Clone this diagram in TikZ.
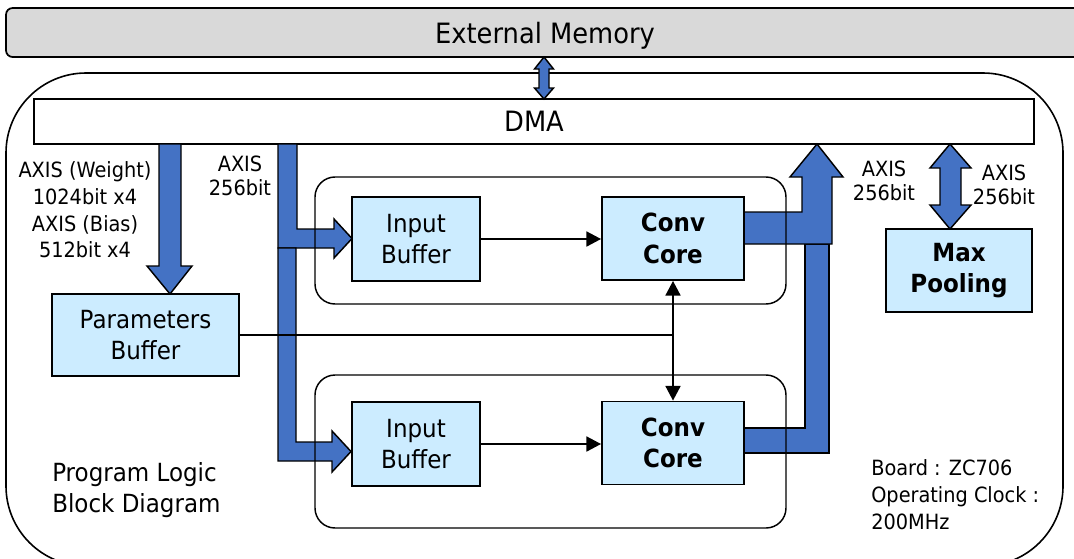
\documentclass[tikz,border=0pt]{standalone}
\usepackage{fontspec}
\setmainfont{DejaVu Sans}[FakeStretch=0.92]
\usetikzlibrary{arrows.meta}

\definecolor{busblue}{HTML}{4472C4}
\definecolor{bufblue}{HTML}{CCECFF}
\definecolor{memgray}{HTML}{D9D9D9}

\newcommand{\bigfont}{\fontsize{21pt}{25pt}\selectfont}
\newcommand{\boxfont}{\fontsize{18.75pt}{23.5pt}\selectfont}
\newcommand{\lblfont}{\fontsize{15.75pt}{18pt}\selectfont}

\tikzset{
  blk/.style={draw, fill=bufblue, line width=1.3pt, align=center, inner sep=0pt,
    font=\boxfont, minimum width=96pt, minimum height=63pt},
  core/.style={blk, font=\boxfont\bfseries, minimum width=106.5pt, minimum height=62.25pt},
  grp/.style={draw, line width=1.1pt, rounded corners=15pt},
  bus/.style={draw, fill=busblue, line width=1.1pt, line join=miter},
  sig/.style={line width=2pt},
  tip/.tip={Triangle[length=11pt,width=11pt]},
  lbl/.style={align=center, inner sep=0pt, font=\lblfont},
}

\begin{document}
\begin{tikzpicture}[x=0.75pt, y=-0.75pt]
\useasboundingbox (0,0) rectangle (1074,558);

% program logic area
\draw[line width=1.2pt, rounded corners=60pt] (6,73) rectangle (1063,566);

% memory and dma
\node[draw, fill=memgray, line width=1.3pt, rounded corners=5pt, font=\bigfont, text depth=0pt,
  minimum width=808.5pt, minimum height=36.75pt] (extmem) at (545,32.5) {External Memory};
\node[draw, fill=white, line width=1.3pt, font=\bigfont,
  minimum width=750pt, minimum height=33.75pt] (dma) at (534,121.5) {DMA};

% wide buses
\draw[bus] (544,57) -- (553.5,69) -- (549,69) -- (549,88) -- (553.5,88) -- (544,99)
  -- (534.5,88) -- (539,88) -- (539,69) -- (534.5,69) -- cycle; % memory <-> dma
\draw[bus] (159,144) -- (181,144) -- (181,266) -- (192,266) -- (170,294)
  -- (147,266) -- (159,266) -- cycle; % weight / bias
\draw[bus] (278,144) -- (297,144) -- (297,229) -- (334,229) -- (334,219) -- (352,238.5)
  -- (334,258) -- (334,248) -- (278,248) -- cycle; % to upper input buffer
\draw[bus] (278,248) -- (296,248) -- (296,442) -- (332,442) -- (332,431) -- (351,451.5)
  -- (332,472) -- (332,461) -- (278,461) -- cycle; % to lower input buffer
\draw[bus] (744,428) -- (805,428) -- (805,244) -- (829,244) -- (829,453)
  -- (744,453) -- cycle; % lower conv out
\draw[bus] (744,212) -- (802,212) -- (802,177) -- (790,177) -- (817,144) -- (843,177)
  -- (832,177) -- (832,244) -- (744,244) -- cycle; % upper conv out
\draw[bus] (950,144) -- (971,168) -- (961,168) -- (961,205) -- (971,205) -- (950,229)
  -- (930,205) -- (940,205) -- (940,168) -- (930,168) -- cycle; % dma <-> max pooling

% conv groups
\draw[grp] (315,177) rectangle (786,304);
\draw[grp] (315,375) rectangle (786,528);

% blocks
\node[blk, minimum width=140.25pt, minimum height=61.5pt] (param) at (145.5,335) {Parameters\\Buffer};
\node[blk] (inbufA) at (416,239) {Input\\Buffer};
\node[core] (convA) at (673,238.5) {Conv\\Core};
\node[blk] (inbufB) at (416,444) {Input\\Buffer};
\node[core] (convB) at (673,443) {Conv\\Core};
\node[core, minimum width=109.5pt] (pool) at (959,270.5) {Max\\Pooling};

% signals
\draw[sig, -tip] (inbufA.east) -- (inbufA.east -| convA.west);
\draw[sig, -tip] (inbufB.east) -- (inbufB.east -| convB.west);
\draw[sig] (param.east) -- (param.east -| convA.south);
\draw[sig, tip-tip] (convA.south) -- (convB.north);

% labels
\node[lbl, font=\fontsize{15.75pt}{20pt}\selectfont] (wlbl) at (85,210)
  {AXIS (Weight)\\1024bit x4\\AXIS (Bias)\\512bit x4};
\node[lbl] (inlbl) at (240,176) {AXIS\\256bit};
\node[lbl] (outlbl) at (884,180.5) {AXIS\\256bit};
\node[lbl] (poollbl) at (1004,185) {AXIS\\256bit};
\node[lbl, align=left, anchor=west, font=\fontsize{18.75pt}{23.25pt}\selectfont] (title) at (52,490)
  {Program Logic\\Block Diagram};
\node[lbl, align=left, anchor=west, font=\fontsize{15.75pt}{20pt}\selectfont] (board) at (871,494.5)
  {Board : ZC706\\Operating Clock :\\200MHz};
\end{tikzpicture}
\end{document}
